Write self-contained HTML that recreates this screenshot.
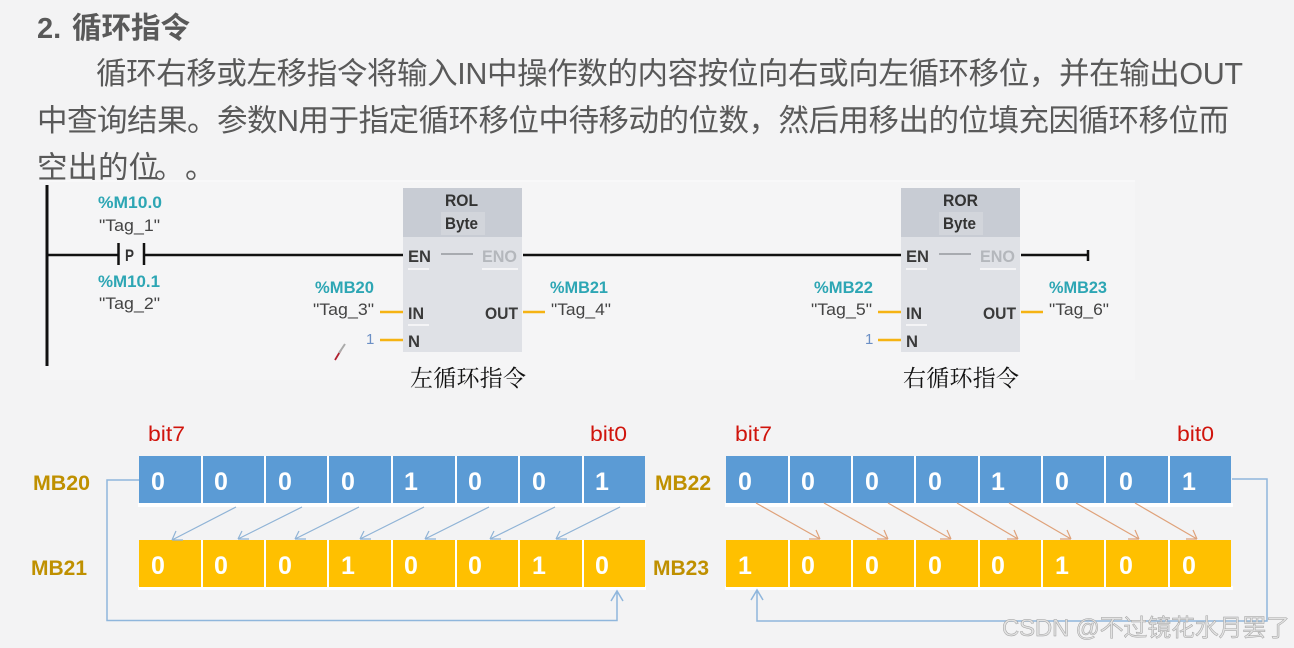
<!DOCTYPE html>
<html><head><meta charset="utf-8">
<style>
html,body{margin:0;padding:0;background:#f3f3f4;width:1294px;height:648px;overflow:hidden}
svg{display:block}
text{font-family:"Liberation Sans","Noto Sans CJK SC",sans-serif}
.h{font-size:30.500px;fill:#595959}
.tl{font-size:17px;font-weight:bold;fill:#2da6b4}
.tg{font-size:16.500px;fill:#444}
.pin{font-size:17px;font-weight:bold;fill:#3a3a3a}
.eno{font-size:17px;font-weight:bold;fill:#b4b7bc}
.blk{font-size:17px;font-weight:bold;fill:#333}
.mb{font-size:21px;font-weight:bold;fill:#bf9000}
.bit{font-size:21px;fill:#d0140c}
.d{font-size:25px;font-weight:bold;fill:#fff;text-anchor:middle}
.cap{font-family:"Liberation Serif","Noto Serif CJK SC",serif;font-size:23px;fill:#111}
</style></head>
<body>
<svg width="1294" height="648" viewBox="0 0 1294 648" xmlns="http://www.w3.org/2000/svg">
<rect width="1294" height="648" fill="#f3f3f4"/>
<rect x="40" y="180" width="1095" height="200" fill="#f5f5f6"/>

<text x="37" y="38" font-size="29" font-weight="bold" fill="#595959">2.</text>
<text x="72" y="38" font-size="29.500" font-weight="bold" fill="#595959">循环指令</text>
<text class="h" x="96" y="84" textLength="1147">循环右移或左移指令将输入IN中操作数的内容按位向右或向左循环移位，并在输出OUT</text>
<text class="h" x="37" y="131" textLength="1192">中查询结果。参数N用于指定循环移位中待移动的位数，然后用移出的位填充因循环移位而</text>
<text class="h" x="37" y="178">空出的位</text>
<text class="h" x="154" y="178">。</text>
<text class="h" x="185" y="178">。</text>
<rect x="40" y="180" width="1095" height="2" fill="#f8f8f9"/>

<!-- ladder -->
<rect x="45.500" y="185" width="3" height="181" fill="#111"/>
<g stroke="#111" stroke-width="2.500" fill="none">
<path d="M47 255H118M144 255H403M523 255H901M1021 255H1088"/>
<path d="M118.500 243V265M144 243V265M1088 250V261"/>
</g>
<text x="125" y="261" font-size="17" font-weight="bold" fill="#333" textLength="9" lengthAdjust="spacingAndGlyphs">P</text>

<text class="tl" x="98" y="208" textLength="64" lengthAdjust="spacingAndGlyphs">%M10.0</text>
<text class="tg" x="99" y="231" textLength="61" lengthAdjust="spacingAndGlyphs">"Tag_1"</text>
<text class="tl" x="98" y="287" textLength="62" lengthAdjust="spacingAndGlyphs">%M10.1</text>
<text class="tg" x="99" y="309" textLength="61" lengthAdjust="spacingAndGlyphs">"Tag_2"</text>

<!-- ROL -->
<rect x="403" y="188" width="119" height="164" fill="#dfe1e6"/>
<rect x="403" y="188" width="119" height="49" fill="#c8ccd4"/>
<rect x="441" y="212" width="44" height="23" fill="#d2d5db"/>
<text class="blk" x="445" y="206" textLength="33" lengthAdjust="spacingAndGlyphs">ROL</text>
<text class="blk" x="445" y="229" textLength="33" lengthAdjust="spacingAndGlyphs">Byte</text>
<text class="pin" x="408" y="262" textLength="23" lengthAdjust="spacingAndGlyphs">EN</text>
<rect x="441" y="253" width="32" height="2" fill="#a8abb0"/>
<text class="eno" x="482" y="262" textLength="35" lengthAdjust="spacingAndGlyphs">ENO</text>
<rect x="408" y="268" width="21" height="2" fill="#f4f4f6"/>
<rect x="482" y="268" width="36" height="2" fill="#f4f4f6"/>
<text class="pin" x="408" y="319" textLength="16" lengthAdjust="spacingAndGlyphs">IN</text>
<rect x="408" y="324" width="21" height="2" fill="#f4f4f6"/>
<text class="pin" x="485" y="319" textLength="33" lengthAdjust="spacingAndGlyphs">OUT</text>
<text class="pin" x="408" y="347" textLength="12" lengthAdjust="spacingAndGlyphs">N</text>
<g stroke="#f5b313" stroke-width="2.500"><path d="M380 312H403M523 312H545M380 340H403"/></g>
<text class="tl" x="315" y="293" textLength="59" lengthAdjust="spacingAndGlyphs">%MB20</text>
<text class="tg" x="313" y="315" textLength="61" lengthAdjust="spacingAndGlyphs">"Tag_3"</text>
<text x="366" y="344" font-size="15" fill="#6b8fc5">1</text>
<text class="tl" x="550" y="293" textLength="58" lengthAdjust="spacingAndGlyphs">%MB21</text>
<text class="tg" x="551" y="315" textLength="60" lengthAdjust="spacingAndGlyphs">"Tag_4"</text>
<text class="cap" x="410" y="386" textLength="116">左循环指令</text>

<!-- ROR -->
<rect x="901" y="188" width="119" height="164" fill="#dfe1e6"/>
<rect x="901" y="188" width="119" height="49" fill="#c8ccd4"/>
<rect x="939" y="212" width="44" height="23" fill="#d2d5db"/>
<text class="blk" x="943" y="206" textLength="35" lengthAdjust="spacingAndGlyphs">ROR</text>
<text class="blk" x="943" y="229" textLength="33" lengthAdjust="spacingAndGlyphs">Byte</text>
<text class="pin" x="906" y="262" textLength="23" lengthAdjust="spacingAndGlyphs">EN</text>
<rect x="939" y="253" width="32" height="2" fill="#a8abb0"/>
<text class="eno" x="980" y="262" textLength="35" lengthAdjust="spacingAndGlyphs">ENO</text>
<rect x="906" y="268" width="21" height="2" fill="#f4f4f6"/>
<rect x="980" y="268" width="36" height="2" fill="#f4f4f6"/>
<text class="pin" x="906" y="319" textLength="16" lengthAdjust="spacingAndGlyphs">IN</text>
<rect x="906" y="324" width="21" height="2" fill="#f4f4f6"/>
<text class="pin" x="983" y="319" textLength="33" lengthAdjust="spacingAndGlyphs">OUT</text>
<text class="pin" x="906" y="347" textLength="12" lengthAdjust="spacingAndGlyphs">N</text>
<g stroke="#f5b313" stroke-width="2.500"><path d="M878 312H901M1021 312H1043M878 340H901"/></g>
<text class="tl" x="814" y="293" textLength="59" lengthAdjust="spacingAndGlyphs">%MB22</text>
<text class="tg" x="811" y="315" textLength="61" lengthAdjust="spacingAndGlyphs">"Tag_5"</text>
<text x="865" y="344" font-size="15" fill="#6b8fc5">1</text>
<text class="tl" x="1049" y="293" textLength="58" lengthAdjust="spacingAndGlyphs">%MB23</text>
<text class="tg" x="1049" y="315" textLength="60" lengthAdjust="spacingAndGlyphs">"Tag_6"</text>
<text class="cap" x="903" y="386" textLength="116">右循环指令</text>

<!-- pen cursor -->
<path d="M335 360L341 350" stroke="#b02030" stroke-width="1.800"/>
<path d="M339 353L345 344" stroke="#aaa" stroke-width="2"/>

<!-- labels -->
<text class="bit" x="148" y="441" textLength="37" lengthAdjust="spacingAndGlyphs">bit7</text>
<text class="bit" x="590" y="441" textLength="37" lengthAdjust="spacingAndGlyphs">bit0</text>
<text class="bit" x="735" y="441" textLength="37" lengthAdjust="spacingAndGlyphs">bit7</text>
<text class="bit" x="1177" y="441" textLength="37" lengthAdjust="spacingAndGlyphs">bit0</text>
<text class="mb" x="33" y="490" textLength="57" lengthAdjust="spacingAndGlyphs">MB20</text>
<text class="mb" x="31" y="575" textLength="56" lengthAdjust="spacingAndGlyphs">MB21</text>
<text class="mb" x="655" y="490" textLength="56" lengthAdjust="spacingAndGlyphs">MB22</text>
<text class="mb" x="653" y="575" textLength="56" lengthAdjust="spacingAndGlyphs">MB23</text>

<!-- white under-strips -->
<rect x="138" y="586" width="508" height="4" fill="#fff"/>
<rect x="725" y="586" width="508" height="4" fill="#fff"/>

<!-- left rows -->
<rect x="139" y="456" width="506" height="47" fill="#5b9bd5"/>
<rect x="139" y="540" width="506" height="47" fill="#ffc000"/>
<g fill="#fff">
<rect x="201" y="456" width="2" height="131"/><rect x="264" y="456" width="2" height="131"/><rect x="327" y="456" width="2" height="131"/><rect x="391" y="456" width="2" height="131"/><rect x="455" y="456" width="2" height="131"/><rect x="518" y="456" width="2" height="131"/><rect x="582" y="456" width="2" height="131"/>
</g>
<rect x="139" y="503" width="507" height="37" fill="#f3f3f4"/>
<rect x="138" y="503" width="508" height="4" fill="#fff"/>

<!-- right rows -->
<rect x="726" y="456" width="505" height="47" fill="#5b9bd5"/>
<rect x="726" y="540" width="505" height="47" fill="#ffc000"/>
<g fill="#fff">
<rect x="788" y="456" width="2" height="131"/><rect x="851" y="456" width="2" height="131"/><rect x="914" y="456" width="2" height="131"/><rect x="978" y="456" width="2" height="131"/><rect x="1041" y="456" width="2" height="131"/><rect x="1104" y="456" width="2" height="131"/><rect x="1168" y="456" width="2" height="131"/>
</g>
<rect x="726" y="503" width="507" height="37" fill="#f3f3f4"/>
<rect x="725" y="503" width="508" height="4" fill="#fff"/>

<!-- digits -->
<text class="d" x="158" y="490">0</text><text class="d" x="221" y="490">0</text><text class="d" x="285" y="490">0</text><text class="d" x="348" y="490">0</text><text class="d" x="411" y="490">1</text><text class="d" x="475" y="490">0</text><text class="d" x="539" y="490">0</text><text class="d" x="602" y="490">1</text>
<text class="d" x="158" y="574">0</text><text class="d" x="221" y="574">0</text><text class="d" x="285" y="574">0</text><text class="d" x="348" y="574">1</text><text class="d" x="411" y="574">0</text><text class="d" x="475" y="574">0</text><text class="d" x="539" y="574">1</text><text class="d" x="602" y="574">0</text>
<text class="d" x="745" y="490">0</text><text class="d" x="808" y="490">0</text><text class="d" x="872" y="490">0</text><text class="d" x="935" y="490">0</text><text class="d" x="998" y="490">1</text><text class="d" x="1062" y="490">0</text><text class="d" x="1126" y="490">0</text><text class="d" x="1189" y="490">1</text>
<text class="d" x="745" y="574">1</text><text class="d" x="808" y="574">0</text><text class="d" x="872" y="574">0</text><text class="d" x="935" y="574">0</text><text class="d" x="998" y="574">0</text><text class="d" x="1062" y="574">1</text><text class="d" x="1126" y="574">0</text><text class="d" x="1189" y="574">0</text>

<!-- left arrows -->
<g stroke="#8fb3d6" stroke-width="1.200" fill="none">
<path d="M236 507L172 540M172 540L176 531M172 540L183 540"/>
<path d="M302 507L238 539M238 539L242 531M238 539L249 539"/>
<path d="M359 507L295 539M295 539L299 531M295 539L306 539"/>
<path d="M424 507L360 539M360 539L364 531M360 539L371 539"/>
<path d="M489 507L425 539M425 539L429 531M425 539L436 539"/>
<path d="M555 507L490 539M490 539L494 531M490 539L501 539"/>
<path d="M620 507L556 539M556 539L560 531M556 539L567 539"/>
</g>
<!-- right arrows -->
<g stroke="#dfa27a" stroke-width="1.200" fill="none">
<path d="M756 503L820 539M820 539L816 530M820 539L809 539"/>
<path d="M824 503L888 539M888 539L884 530M888 539L877 539"/>
<path d="M888 503L951 539M951 539L947 530M951 539L940 539"/>
<path d="M957 503L1018 539M1018 539L1014 530M1018 539L1007 539"/>
<path d="M1009 503L1071 539M1071 539L1067 530M1071 539L1060 539"/>
<path d="M1076 503L1139 539M1139 539L1135 530M1139 539L1128 539"/>
<path d="M1135 503L1197 539M1197 539L1193 530M1197 539L1186 539"/>
</g>
<!-- loops -->
<g stroke="#8fb6dc" stroke-width="1.500" fill="none">
<path d="M139 480H107V620.500H617V591M611 601L617 591L623 601"/>
<path d="M1232 479H1267V621H757V590M751 600L757 590L763 600"/>
</g>

<!-- watermark -->
<text x="1002" y="636" font-size="24" fill="#e2e2e2" stroke="#a0a0a0" stroke-width="0.500" textLength="288">CSDN @不过镜花水月罢了</text>
</svg>
</body></html>
